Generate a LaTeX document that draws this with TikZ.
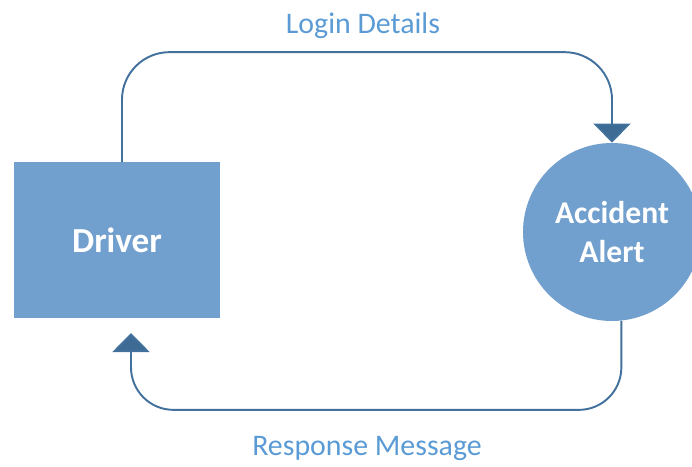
\documentclass[tikz,border=0pt]{standalone}
\usepackage{fontspec}
\setmainfont{Carlito}
\usetikzlibrary{arrows.meta}

\definecolor{boxfill}{RGB}{114,160,206}
\definecolor{flowline}{RGB}{65,113,156}
\definecolor{labeltext}{RGB}{91,155,213}

\tikzset{
    entity/.style={fill=boxfill, draw=none, text=white, font=\bfseries},
    flow/.style={draw=flowline, line width=1.1pt,
        -{Triangle[width=0.74cm,length=0.38cm,fill=flowline!95!black]}},
    msg/.style={text=labeltext, font=\fontsize{17}{20}\selectfont}
}

\begin{document}
\begin{tikzpicture}
    \useasboundingbox (0,0) rectangle (13.84,9.32);

    \node[entity, rectangle, minimum width=4.12cm, minimum height=3.1cm,
          font=\bfseries\fontsize{20}{24}\selectfont] (driver) at (2.34,4.52) {Driver};
    \node[entity, circle, minimum size=3.56cm, inner sep=0pt, align=center,
          font=\bfseries\fontsize{18}{22.7}\selectfont] (alert) at (12.24,4.68) {Accident\\Alert};

    \coordinate (back) at (2.62,2.66);

    \draw[flow, rounded corners=0.95cm] ([xshift=1mm]driver.north) -- ++(0,2.2) -| (alert.north);
    \draw[flow, rounded corners=0.85cm] (alert.-84) -- ++(0,-1.78) -| (back);

    \node[msg] (login) at (7.26,8.8) {Login Details};
    \node[msg] (response) at (7.34,0.36) {Response Message};
\end{tikzpicture}
\end{document}
